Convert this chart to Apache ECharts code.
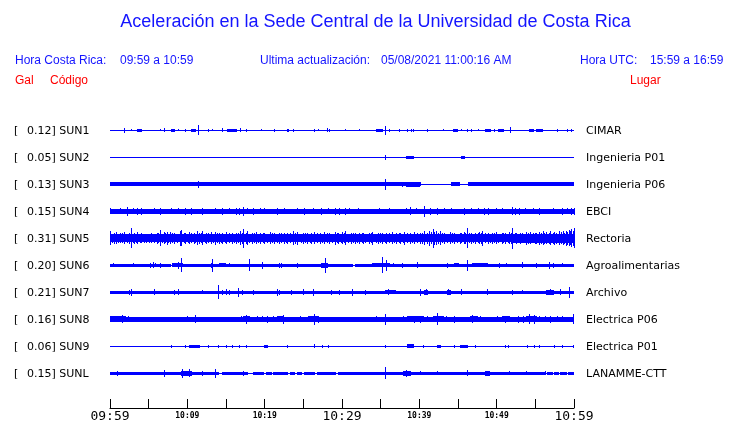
<!DOCTYPE html>
<html><head><meta charset="utf-8">
<script src="https://cdn.jsdelivr.net/npm/echarts@6/dist/echarts.min.js"></script>
<style>html,body{margin:0;padding:0;background:#fff}#c{width:740px;height:423px}</style>
</head><body><div id="c"></div><script>
// ---- data (time in minutes from 09:59, amplitude in Gal) ----
const codes  = ['SUN1','SUN2','SUN3','SUN4','SUN5','SUN6','SUN7','SUN8','SUN9','SUNL'];
const peaks  = [0.12,0.05,0.13,0.15,0.31,0.20,0.21,0.16,0.06,0.15];
const places = ['CIMAR','Ingenieria P01','Ingenieria P06','EBCI','Rectoria','Agroalimentarias','Archivo','Electrica P06','Electrica P01','LANAMME-CTT'];
const tickLabels = ['09:59','','10:09','','10:19','','10:29','','10:39','','10:49','','10:59'];

const sun1Bands = [[0,60,0],[3.5,4.1,0.045],[7.9,8.3,0.045],[10.6,11.1,0.05],[15.2,16.4,0.045],[22.9,23.1,0.045],[34.5,35.2,0.045],[44.4,44.9,0.045],[48.5,49.2,0.045],[50.3,50.9,0.045],[54.3,54.8,0.045],[55.2,55.9,0.045]];
const sun1Spikes = [[1.9,0.08],[2.8,0.03],[6.5,0.03],[7.0,0.06],[8.9,0.03],[9.8,0.045],[11.4,0.15],[12.8,0.045],[13.3,0.03],[14.6,0.06],[16.9,0.06],[17.6,0.045],[19.6,0.03],[21.3,0.045],[23.7,0.045],[26.4,0.045],[27.0,0.03],[28.1,0.06],[28.4,0.045],[30.4,0.03],[32.3,0.03],[35.6,0.13],[36.1,0.045],[37.4,0.045],[38.5,0.045],[39.0,0.045],[39.3,0.045],[41.1,0.045],[43.1,0.03],[45.5,0.03],[46.2,0.045],[46.8,0.045],[47.6,0.03],[49.7,0.045],[51.8,0.09],[57.9,0.045],[59.1,0.045],[59.7,0.045]];

const sun2Bands = [[0,60,0],[38.4,39.2,0.05],[45.4,45.8,0.05]];
const sun2Spikes = [[35.6,0.07]];

const sun3Bands = [[0,40.1,0.06],[40.1,60,0],[44.2,45.2,0.06],[46.4,60,0.065],[38.3,40.0,0.08]];
const sun3Spikes = [[11.4,0.1],[35.6,0.16],[37.8,0.075]];

const sun4Bands = [[0,60,0.07]];
const sun4Spikes = [[0.1,0.09],[1.3,0.085],[2.2,0.13],[3.1,0.09],[3.5,0.11],[4.1,0.1],[4.9,0.08],[5.8,0.09],[6.5,0.1],[7.4,0.08],[8.0,0.09],[8.8,0.085],[9.7,0.1],[10.6,0.1],[11.4,0.08],[11.9,0.1],[12.9,0.08],[13.7,0.09],[14.6,0.1],[15.5,0.085],[16.4,0.11],[16.8,0.1],[17.3,0.13],[17.8,0.09],[18.5,0.1],[19.4,0.085],[20.0,0.09],[20.9,0.08],[21.7,0.1],[22.6,0.085],[23.3,0.08],[24.2,0.09],[25.2,0.1],[26.3,0.085],[27.4,0.1],[28.2,0.085],[29.1,0.1],[29.7,0.11],[30.4,0.1],[31.0,0.085],[32.1,0.09],[33.4,0.08],[34.9,0.09],[36.2,0.085],[37.5,0.08],[38.3,0.09],[38.9,0.12],[39.6,0.09],[40.7,0.16],[41.4,0.1],[42.3,0.11],[43.3,0.085],[44.2,0.09],[45.0,0.08],[45.9,0.1],[46.8,0.085],[47.6,0.09],[48.4,0.11],[48.9,0.1],[50.0,0.085],[50.8,0.09],[52.0,0.12],[52.4,0.11],[52.9,0.1],[53.7,0.085],[54.7,0.09],[55.6,0.1],[56.5,0.08],[57.3,0.09],[58.5,0.1],[59.1,0.09],[59.7,0.11],[60,0.1]];

const sun5Bands = [[0,60,0.12],[52,60,0.13],[56,60,0.14]];
const sun5Spikes = [[0.1,0.2],[0.6,0.16],[0.9,0.18],[1.4,0.15],[1.9,0.18],[2.5,0.16],[2.8,0.3],[3.2,0.17],[3.6,0.18],[4.1,0.15],[4.7,0.13],[5.4,0.15],[6.1,0.16],[6.5,0.23],[7.0,0.18],[7.4,0.19],[7.8,0.18],[8.4,0.16],[9.1,0.22],[9.3,0.23],[9.8,0.17],[10.3,0.18],[10.9,0.16],[11.3,0.21],[11.6,0.17],[12.0,0.21],[12.5,0.16],[13.1,0.18],[13.6,0.19],[14.1,0.17],[14.6,0.16],[15.1,0.18],[15.8,0.17],[16.3,0.16],[16.9,0.2],[17.3,0.28],[17.8,0.2],[18.4,0.17],[18.9,0.18],[19.5,0.16],[20.0,0.17],[20.7,0.18],[21.3,0.16],[21.9,0.17],[22.5,0.16],[23.0,0.17],[23.7,0.2],[24.3,0.19],[25.0,0.17],[25.6,0.16],[26.1,0.17],[26.5,0.18],[27.2,0.16],[27.8,0.18],[28.4,0.17],[29.1,0.19],[29.6,0.17],[30.1,0.18],[30.5,0.2],[31.2,0.17],[31.8,0.16],[32.3,0.17],[32.8,0.16],[33.5,0.17],[34.0,0.19],[34.7,0.17],[35.3,0.16],[35.8,0.17],[36.5,0.18],[37.1,0.16],[37.6,0.17],[38.1,0.19],[38.8,0.17],[39.4,0.18],[40.1,0.16],[40.7,0.21],[41.3,0.22],[41.8,0.28],[42.2,0.2],[42.7,0.2],[43.3,0.17],[44.0,0.18],[44.6,0.16],[45.3,0.17],[45.8,0.18],[46.2,0.3],[46.8,0.17],[47.3,0.16],[47.8,0.18],[48.2,0.22],[48.9,0.17],[49.4,0.16],[50.0,0.18],[50.7,0.17],[51.2,0.16],[51.7,0.18],[52.1,0.31],[52.6,0.17],[53.1,0.16],[53.8,0.19],[54.4,0.18],[55.0,0.17],[55.5,0.19],[56.0,0.2],[56.5,0.18],[57.0,0.2],[57.5,0.19],[58.1,0.21],[58.6,0.2],[59.0,0.22],[59.4,0.24],[59.7,0.27],[60,0.29],
  [0.35,0.14],[1.15,0.13],[1.65,0.15],[2.2,0.14],[3.0,0.13],[3.4,0.14],[3.9,0.13],[4.4,0.14],[5.1,0.13],[5.8,0.14],[6.3,0.15],[6.8,0.14],[7.2,0.15],[7.6,0.14],[8.1,0.15],[8.7,0.14],[9.6,0.15],[10.1,0.14],[10.6,0.15],[11.1,0.14],[11.8,0.15],[12.3,0.14],[12.8,0.15],[13.4,0.14],[13.9,0.15],[14.4,0.14],[14.9,0.13],[15.4,0.15],[16.1,0.14],[16.6,0.15],[17.1,0.16],[17.6,0.17],[18.1,0.14],[18.7,0.15],[19.2,0.14],[19.8,0.15],[20.4,0.14],[21.0,0.15],[21.6,0.14],[22.2,0.15],[22.8,0.14],[23.4,0.15],[24.0,0.16],[24.7,0.14],[25.3,0.15],[25.9,0.14],[26.8,0.15],[27.5,0.14],[28.1,0.15],[28.8,0.14],[29.4,0.15],[29.9,0.14],[30.3,0.15],[30.8,0.14],[31.5,0.15],[32.0,0.14],[32.6,0.15],[33.1,0.14],[33.8,0.15],[34.4,0.14],[35.0,0.15],[35.6,0.14],[36.1,0.15],[36.8,0.14],[37.4,0.15],[37.9,0.14],[38.5,0.15],[39.1,0.14],[39.7,0.15],[40.4,0.16],[41.0,0.17],[41.6,0.18],[42.0,0.19],[42.5,0.16],[43.0,0.15],[43.6,0.14],[44.3,0.15],[44.9,0.14],[45.5,0.15],[46.0,0.16],[46.5,0.15],[47.0,0.14],[47.6,0.15],[48.0,0.16],[48.6,0.15],[49.2,0.14],[49.7,0.15],[50.3,0.14],[50.9,0.15],[51.5,0.14],[51.9,0.16],[52.4,0.15],[52.8,0.14],[53.4,0.15],[54.1,0.16],[54.7,0.15],[55.2,0.16],[55.8,0.17],[56.2,0.16],[56.8,0.17],[57.3,0.16],[57.8,0.17],[58.4,0.18],[58.8,0.17],[59.2,0.19],[59.6,0.2],[59.9,0.22]];

const sun6Bands = [[0,60,0],[0,7.8,0.04],[8.1,31.4,0.04],[31.8,60,0.04],[8.1,9.4,0.065],[14.2,14.9,0.06],[27.3,28.1,0.07],[34.0,36.1,0.065],[44.5,45.1,0.055],[46.9,48.8,0.055]];
const sun6Spikes = [[0.4,0.06],[3.0,0.06],[5.2,0.08],[5.6,0.09],[5.9,0.06],[6.5,0.07],[8.8,0.1],[9.2,0.2],[13.1,0.08],[13.3,0.19],[15.5,0.06],[16.0,0.05],[18.1,0.18],[19.7,0.1],[21.9,0.08],[22.2,0.07],[24.3,0.08],[27.9,0.22],[35.2,0.24],[35.8,0.16],[36.6,0.06],[37.8,0.07],[39.8,0.09],[43.7,0.08],[46.2,0.17],[50.4,0.07],[51.3,0.06],[53.4,0.09],[55.2,0.07],[56.8,0.1],[57.3,0.08],[58.5,0.06]];

const sun7Bands = [[0,60,0.05],[35.6,36.9,0.065],[40.7,41.1,0.075],[43.6,44.0,0.075],[56.5,57.3,0.075]];
const sun7Spikes = [[2.5,0.07],[2.8,0.1],[5.7,0.09],[8.3,0.08],[8.8,0.09],[11.9,0.06],[14.0,0.2],[14.5,0.07],[15.1,0.09],[15.5,0.08],[16.6,0.13],[17.1,0.08],[18.5,0.07],[21.6,0.1],[21.9,0.08],[23.5,0.07],[25.0,0.09],[26.3,0.1],[28.6,0.07],[29.7,0.07],[31.4,0.1],[33.0,0.07],[36.0,0.09],[40.1,0.1],[40.9,0.09],[43.8,0.09],[45.5,0.09],[48.8,0.09],[52.1,0.07],[53.3,0.06],[56.9,0.09],[58.2,0.09],[59.4,0.16]];

const sun8Bands = [[0,60,0.07],[0,2,0.085],[2.8,4.5,0.08],[10.3,12.3,0.08],[17.2,18.1,0.085],[21.7,22.5,0.09],[25.7,26.9,0.085],[38.5,40.5,0.085],[41.8,43.1,0.085],[44.2,44.9,0.08],[46.6,47.5,0.09],[50.7,51.7,0.085],[53.9,55.2,0.09]];
const sun8Spikes = [[0.5,0.09],[1.6,0.12],[2.4,0.085],[4.9,0.08],[5.4,0.075],[5.9,0.075],[6.5,0.07],[7.1,0.075],[7.8,0.07],[8.8,0.075],[9.5,0.07],[10.0,0.09],[11.1,0.12],[12.7,0.08],[13.3,0.075],[13.8,0.075],[14.5,0.08],[15.2,0.08],[15.8,0.07],[16.6,0.075],[17.0,0.09],[17.7,0.13],[18.6,0.08],[19.1,0.09],[19.7,0.085],[20.4,0.11],[21.1,0.09],[22.4,0.13],[23.1,0.08],[23.7,0.08],[24.6,0.085],[25.3,0.075],[26.0,0.09],[26.5,0.16],[27.0,0.1],[27.8,0.075],[28.4,0.08],[29.1,0.075],[30.4,0.07],[31.0,0.08],[31.5,0.075],[32.8,0.07],[33.9,0.08],[34.5,0.085],[35.6,0.17],[36.3,0.08],[37.0,0.075],[38.0,0.085],[39.4,0.11],[40.1,0.1],[41.0,0.085],[42.4,0.175],[43.5,0.09],[44.5,0.1],[45.8,0.08],[46.9,0.12],[47.9,0.085],[48.5,0.08],[49.1,0.08],[50.1,0.09],[51.2,0.11],[51.7,0.09],[52.8,0.11],[53.5,0.1],[54.3,0.15],[54.9,0.13],[55.6,0.09],[56.3,0.09],[56.9,0.1],[57.9,0.09],[58.5,0.085],[59.0,0.08],[59.9,0.15]];

const sun9Bands = [[0,60,0],[10.3,11.6,0.045],[20.0,20.4,0.04],[38.5,39.2,0.06],[42.3,42.7,0.045],[45.3,46.2,0.045]];
const sun9Spikes = [[8.0,0.05],[9.7,0.04],[12.7,0.04],[14.0,0.05],[15.0,0.04],[15.8,0.05],[16.7,0.04],[17.7,0.05],[22.9,0.04],[26.5,0.06],[27.5,0.04],[28.3,0.04],[35.6,0.05],[40.5,0.04],[44.6,0.05],[47.3,0.05],[51.1,0.04],[51.5,0.04],[54.0,0.05],[54.9,0.04],[55.6,0.04],[57.5,0.04],[58.5,0.04],[59.9,0.05]];

const sunLBands = [[0,60,0],[0,14.0,0.05],[14.6,17.8,0.05],[18.5,19.8,0.05],[20.2,20.9,0.05],[21.1,23.0,0.05],[23.4,23.9,0.05],[24.2,24.8,0.05],[25.1,25.5,0.05],[25.6,26.5,0.05],[26.8,29.1,0.05],[29.5,30.4,0.05],[30.6,56.3,0.05],[56.6,57.2,0.05],[57.5,58.0,0.05],[58.3,59.0,0.05],[59.3,60,0.05],[9.3,10.6,0.075],[37.9,38.8,0.075],[48.6,49.1,0.07]];
const sunLSpikes = [[1.0,0.08],[7.1,0.1],[9.4,0.14],[10.3,0.12],[11.9,0.08],[13.6,0.13],[17.2,0.08],[35.6,0.18],[38.3,0.11],[40.1,0.06],[42.3,0.06],[46.2,0.09],[51.6,0.06],[53.8,0.06],[56.3,0.06]];

const bands  = [sun1Bands,sun2Bands,sun3Bands,sun4Bands,sun5Bands,sun6Bands,sun7Bands,sun8Bands,sun9Bands,sunLBands];
const spikes = [sun1Spikes,sun2Spikes,sun3Spikes,sun4Spikes,sun5Spikes,sun6Spikes,sun7Spikes,sun8Spikes,sun9Spikes,sunLSpikes];

// ---- layout / style ----
const BLUE = '#0000ff', TXT_BLUE = '#1414ff', RED = '#ff0000';
const X0 = 110, X1 = 574, ROW0 = 130, ROWSTEP = 27;

const grids = [], xAxes = [], yAxes = [], series = [], graphic = [];
function renderItem(params, api) {
  const t0 = api.value(0), t1 = api.value(1), a = api.value(2);
  const p0 = api.coord([t0, a]), p1 = api.coord([t1, -a]);
  let x = Math.floor(p0[0]), xr = Math.ceil(p1[0]);
  if (xr - x < 1) xr = x + 1;
  const h = Math.max(1, Math.round(p1[1] - p0[1]));
  const y = Math.round((p0[1] + p1[1]) / 2 - h / 2);
  return {type:'rect', shape:{x:x, y:y, width:xr-x, height:h}, style:{fill:BLUE}};
}
for (let i = 0; i < codes.length; i++) {
  const base = ROW0 + i * ROWSTEP;
  grids.push({left:X0, width:X1-X0, top:base-13.5, height:27});
  xAxes.push({gridIndex:i, type:'value', min:0, max:60, show:false});
  yAxes.push({gridIndex:i, type:'value', min:-0.4, max:0.4, show:false});
  const data = bands[i].map(b => [b[0], b[1], b[2]]).concat(spikes[i].map(s => [s[0], s[0], s[1]]));
  series.push({type:'custom', xAxisIndex:i, yAxisIndex:i, renderItem:renderItem, clip:false,
    dimensions:['t0','t1','amp'], encode:{x:[0,1], y:2}, data:data, silent:true});
  const lab = {font:'11px "DejaVu Sans"', fill:'#000', align:'left', verticalAlign:'middle', textAlign:'left', textVerticalAlign:'middle'};
  graphic.push({type:'text', x:14, y:base+1, style:Object.assign({text:'['}, lab)});
  graphic.push({type:'text', x:27, y:base+1, style:Object.assign({text:peaks[i].toFixed(2)+'] '+codes[i]}, lab)});
  graphic.push({type:'text', x:586, y:base+1, style:Object.assign({text:places[i]}, lab)});
}
// time axis
const ti = codes.length;
grids.push({left:X0, width:X1-X0, top:400, height:9});
xAxes.push({gridIndex:ti, type:'value', min:0, max:60, interval:5,
  axisLine:{show:true, lineStyle:{color:'#000', width:1}},
  axisTick:{show:true, inside:true, length:9, lineStyle:{color:'#000', width:1}},
  splitLine:{show:false},
  axisLabel:{show:true, margin:1, showMinLabel:true, showMaxLabel:true,
    formatter:(v, idx) => { const k = Math.round(v/5); const s = tickLabels[k] || ''; if (!s) return ''; return (k % 6 === 0) ? '{b|'+s+'}' : '{s|'+s+'}'; },
    rich:{b:{fontFamily:'DejaVu Sans Mono', fontSize:13, lineHeight:15, color:'#000'},
          s:{fontFamily:'DejaVu Sans Mono', fontSize:8, fontWeight:'bold', lineHeight:13, color:'#000'}}}});
yAxes.push({gridIndex:ti, type:'value', show:false, min:0, max:1});

// header
const hdr = (text, x, y, color, size) => ({type:'text', x:x, y:y, style:{text:text, font:size+'px "Liberation Sans"', fill:color, align:'left', verticalAlign:'middle', textAlign:'left', textVerticalAlign:'middle'}});
graphic.push({type:'text', x:375.5, y:22, style:{text:'Aceleración en la Sede Central de la Universidad de Costa Rica', font:'18px "Liberation Sans"', fill:TXT_BLUE, align:'center', verticalAlign:'middle', textAlign:'center', textVerticalAlign:'middle'}});
graphic.push(hdr('Hora Costa Rica:', 15, 60.5, TXT_BLUE, 12));
graphic.push(hdr('09:59 a 10:59', 120, 60.5, TXT_BLUE, 12));
graphic.push(hdr('Ultima actualización:', 260, 60.5, TXT_BLUE, 12));
graphic.push(hdr('05/08/2021 11:00:16 AM', 381, 60.5, TXT_BLUE, 12));
graphic.push(hdr('Hora UTC:', 580, 60.5, TXT_BLUE, 12));
graphic.push(hdr('15:59 a 16:59', 650, 60.5, TXT_BLUE, 12));
graphic.push(hdr('Gal', 15, 80.5, RED, 12));
graphic.push(hdr('Código', 50, 80.5, RED, 12));
graphic.push(hdr('Lugar', 630, 80.5, RED, 12));

const chart = echarts.init(document.getElementById('c'), null, {renderer:'canvas'});
chart.setOption({animation:false, backgroundColor:'#fff', grid:grids, xAxis:xAxes, yAxis:yAxes, series:series, graphic:graphic});
</script></body></html>
